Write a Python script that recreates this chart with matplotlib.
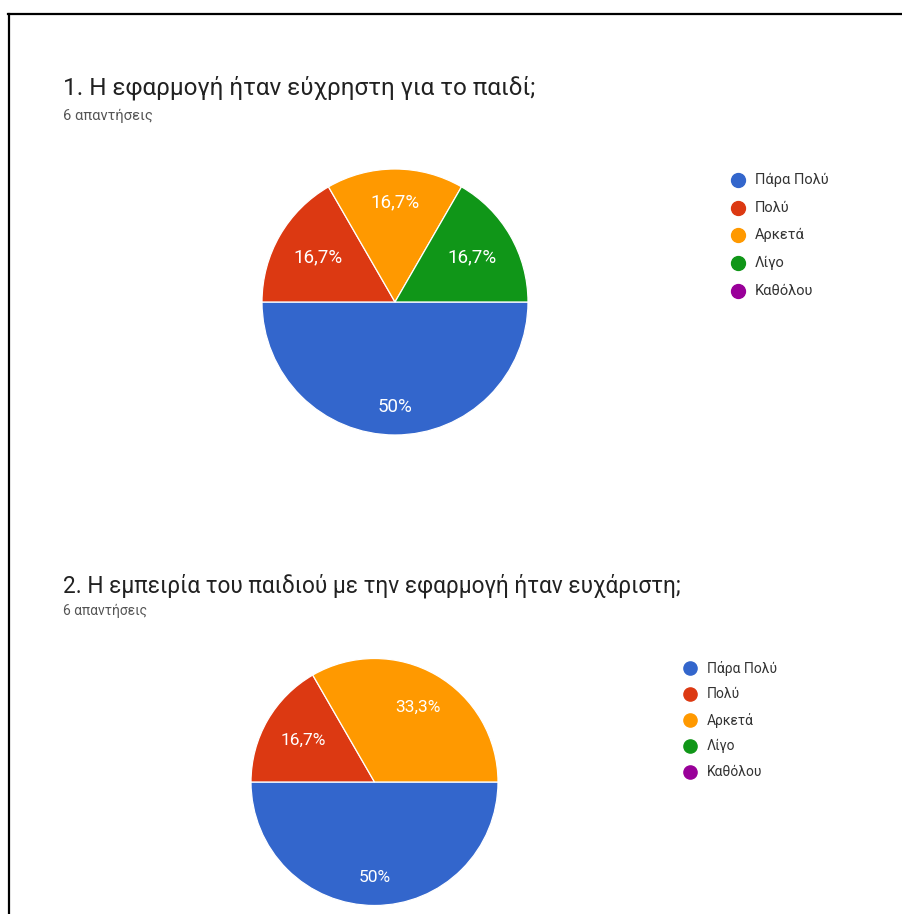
import math
import matplotlib
matplotlib.use("Agg")
import matplotlib.pyplot as plt
from matplotlib.lines import Line2D

plt.rcParams['font.family'] = ['Roboto', 'DejaVu Sans']

# ---- data ----
categories = ["Πάρα Πολύ", "Πολύ", "Αρκετά", "Λίγο", "Καθόλου"]
q1_title = "1. Η εφαρμογή ήταν εύχρηστη για το παιδί;"
q1_counts = [3, 1, 1, 1, 0]
q2_title = "2. Η εμπειρία του παιδιού με την εφαρμογή ήταν ευχάριστη;"
q2_counts = [3, 1, 2, 0, 0]
responses_label = "6 απαντήσεις"

# ---- style ----
colors = ["#3366CC", "#DC3912", "#FF9900", "#109618", "#990099"]
W, H = 903, 914
DPI = 100

fig = plt.figure(figsize=(W / DPI, H / DPI), dpi=DPI)
fig.patch.set_facecolor("white")


def fx(px):
    return px / W


def fy(py):
    return 1 - py / H


def fmt_pct(p):
    s = f"{p:.1f}"
    if s.endswith(".0"):
        s = s[:-2]
    return s.replace(".", ",") + "%"


def draw_question(title, counts, title_y, sub_y, cx, cy, r, label_r,
                  legend_x, legend_y0, legend_dy, title_fs, sub_fs,
                  legend_fs, label_fs, marker_size):
    fig.text(fx(63), fy(title_y), title, fontsize=title_fs, color="#212121",
             ha="left", va="baseline")
    fig.text(fx(63), fy(sub_y), responses_label, fontsize=sub_fs,
             color="#555555", ha="left", va="baseline")

    ax = fig.add_axes([fx(cx - r), fy(cy + r), (2 * r) / W, (2 * r) / H])

    vals = [v for v in counts if v > 0]
    cols = [c for v, c in zip(counts, colors) if v > 0]
    total = sum(vals)
    wedges, _ = ax.pie(vals, colors=cols, startangle=0, counterclock=False,
                       radius=1, center=(0, 0),
                       wedgeprops=dict(edgecolor="white", linewidth=0.9))
    ax.set_xlim(-1, 1)
    ax.set_ylim(-1, 1)
    ax.axis("off")
    for w, v, lr in zip(wedges, vals, label_r):
        mid = math.radians((w.theta1 + w.theta2) / 2)
        ax.text(lr * math.cos(mid), lr * math.sin(mid),
                fmt_pct(100 * v / total), ha="center", va="center",
                color="white", fontsize=label_fs)

    for i, (cat, col) in enumerate(zip(categories, colors)):
        y = legend_y0 + i * legend_dy
        fig.add_artist(Line2D([fx(legend_x)], [fy(y)], marker="o",
                              markersize=marker_size, color=col,
                              linestyle="none", transform=fig.transFigure))
        fig.text(fx(legend_x + 17), fy(y), cat, fontsize=legend_fs,
                 color="#333333", ha="left", va="center")


draw_question(q1_title, q1_counts, 95, 120, 395, 302, 133,
              [0.79, 0.67, 0.75, 0.67],
              738, 180, 27.7, 17.5, 10.6, 10.5, 13.5, 10)
draw_question(q2_title, q2_counts, 592, 615, 374.5, 782, 123.5,
              [0.77, 0.67, 0.70],
              690, 668, 26, 16.3, 10, 10, 12.5, 9.5)

# frame lines along the left and top edges
fig.add_artist(Line2D([fx(9), fx(9)], [fy(14), 0], color="black",
                      linewidth=1.6, transform=fig.transFigure))
fig.add_artist(Line2D([fx(8), 1], [fy(14), fy(14)], color="black",
                      linewidth=1.6, transform=fig.transFigure))

fig.savefig("out.png", dpi=DPI, facecolor="white")
